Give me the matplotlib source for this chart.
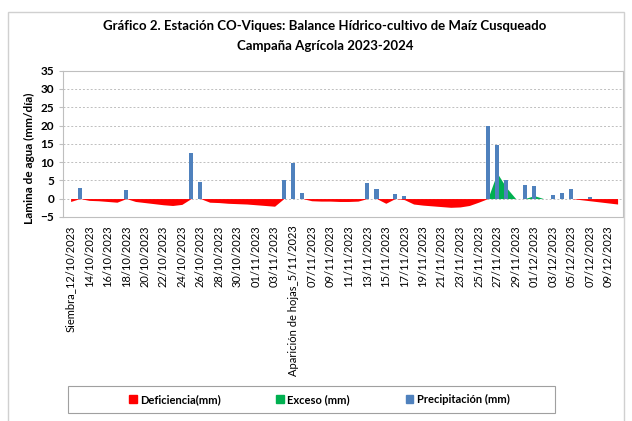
import numpy as np
import matplotlib.pyplot as plt
from matplotlib.patches import Rectangle, Patch
import pandas as pd

plt.rcParams['font.family'] = ['Lato', 'DejaVu Sans']

# daily series 12/10/2023 .. 10/12/2023
dates = pd.date_range("2023-10-12", "2023-12-10", freq="D")

precip_days = [1, 6, 13, 14, 23, 24, 25, 32, 33, 35, 36, 45, 46, 47, 49, 50, 52, 53, 54, 56]
precip_vals = [3.0, 2.4, 12.4, 4.6, 5.2, 9.6, 1.4, 4.3, 2.5, 1.2, 0.6, 20.0, 14.8, 5.2, 3.6, 3.4, 1.1, 1.5, 2.6, 0.3]

deficiencia = [-0.8, 0, -0.5, -0.6, -0.8, -1.0, 0, -0.8, -1.1, -1.4,
               -1.7, -1.9, -1.6, 0, 0, -1.0, -1.1, -1.3, -1.4, -1.5,
               -1.7, -1.9, -2.1, 0, 0, 0, -0.6, -0.7, -0.7, -0.8,
               -0.8, -0.7, 0, 0, -1.3, 0, -0.3, -1.5, -1.8, -2.0,
               -2.2, -2.4, -2.3, -1.9, -1.0, 0, 0, 0, 0, 0,
               0, 0, 0, 0, 0, -0.3, -0.6, -0.9, -1.2, -1.5]

exceso_days = [45, 46, 47, 48, 49, 50, 51]
exceso_vals = [0, 7.0, 3.0, 0, 0, 0.8, 0]

tick_labels = [d.strftime("%d/%m/%Y") for d in dates[::2]]
tick_labels[0] = "Siembra_12/10/2023"
tick_labels[12] = "Aparición de hojas_5/11/2023"

c_def = "#ff0000"
c_exc = "#00b050"
c_pre = "#4f81bd"

x = np.arange(len(dates))
precip = np.zeros(len(dates))
precip[precip_days] = precip_vals

fig = plt.figure(figsize=(6.32, 4.21), dpi=100)

# chart border
fig.patches.append(Rectangle((0.013, -0.01), 0.975, 0.982, transform=fig.transFigure,
                             fill=False, edgecolor="#d0d0d0", lw=1))
ax = fig.add_axes([0.1, 0.485, 0.886, 0.347])

ax.fill_between(x, deficiencia, 0, color=c_def, lw=0, zorder=2)
ax.fill_between(exceso_days, exceso_vals, 0, color=c_exc, lw=0, zorder=3)
ax.bar(x, precip, width=0.45, color=c_pre, zorder=4)

ax.set_ylim(-5, 35)
ax.set_yticks(range(-5, 36, 5))
ax.set_xlim(-0.8, 59.6)
ax.set_xticks(x[::2])
ax.set_xticklabels(tick_labels, rotation=90, fontsize=8)
ax.tick_params(axis='x', length=0, pad=6)
ax.tick_params(axis='y', length=3, labelsize=8.5, color="#bfbfbf")
for lab in ax.get_yticklabels():
    lab.set_fontweight('bold')

ax.yaxis.grid(True, linestyle=(0, (2, 2)), color="#bfbfbf", lw=0.7, zorder=0)
ax.set_axisbelow(True)
for s in ax.spines.values():
    s.set_color("#bfbfbf")

ax.set_ylabel("Lamina de agua (mm/día)", fontsize=8.5, fontweight='bold')
ax.yaxis.set_label_coords(-0.05, 0.4)

fig.text(0.514, 0.938, "Gráfico 2. Estación CO-Viques: Balance Hídrico-cultivo de Maíz Cusqueado",
         ha='center', va='center', fontsize=9.5, fontweight='bold')
fig.text(0.514, 0.891, "Campaña Agrícola 2023-2024",
         ha='center', va='center', fontsize=9.5, fontweight='bold')

# legend box
fig.patches.append(Rectangle((0.108, 0.019), 0.77, 0.064, transform=fig.transFigure,
                             fill=False, edgecolor="#a0a0a0", lw=0.8))
handles = [Patch(color=c_def, label="Deficiencia(mm)"),
           Patch(color=c_exc, label="Exceso (mm)"),
           Patch(color=c_pre, label="Precipitación (mm)")]
fig.legend(handles=handles, loc='center', bbox_to_anchor=(0.505, 0.051, 0.0, 0.0),
           ncol=3, frameon=False,
           handlelength=0.7, handleheight=0.7, handletextpad=0.3, columnspacing=5.0,
           prop={'weight': 'bold', 'size': 8})

fig.savefig("out.png", dpi=100)
